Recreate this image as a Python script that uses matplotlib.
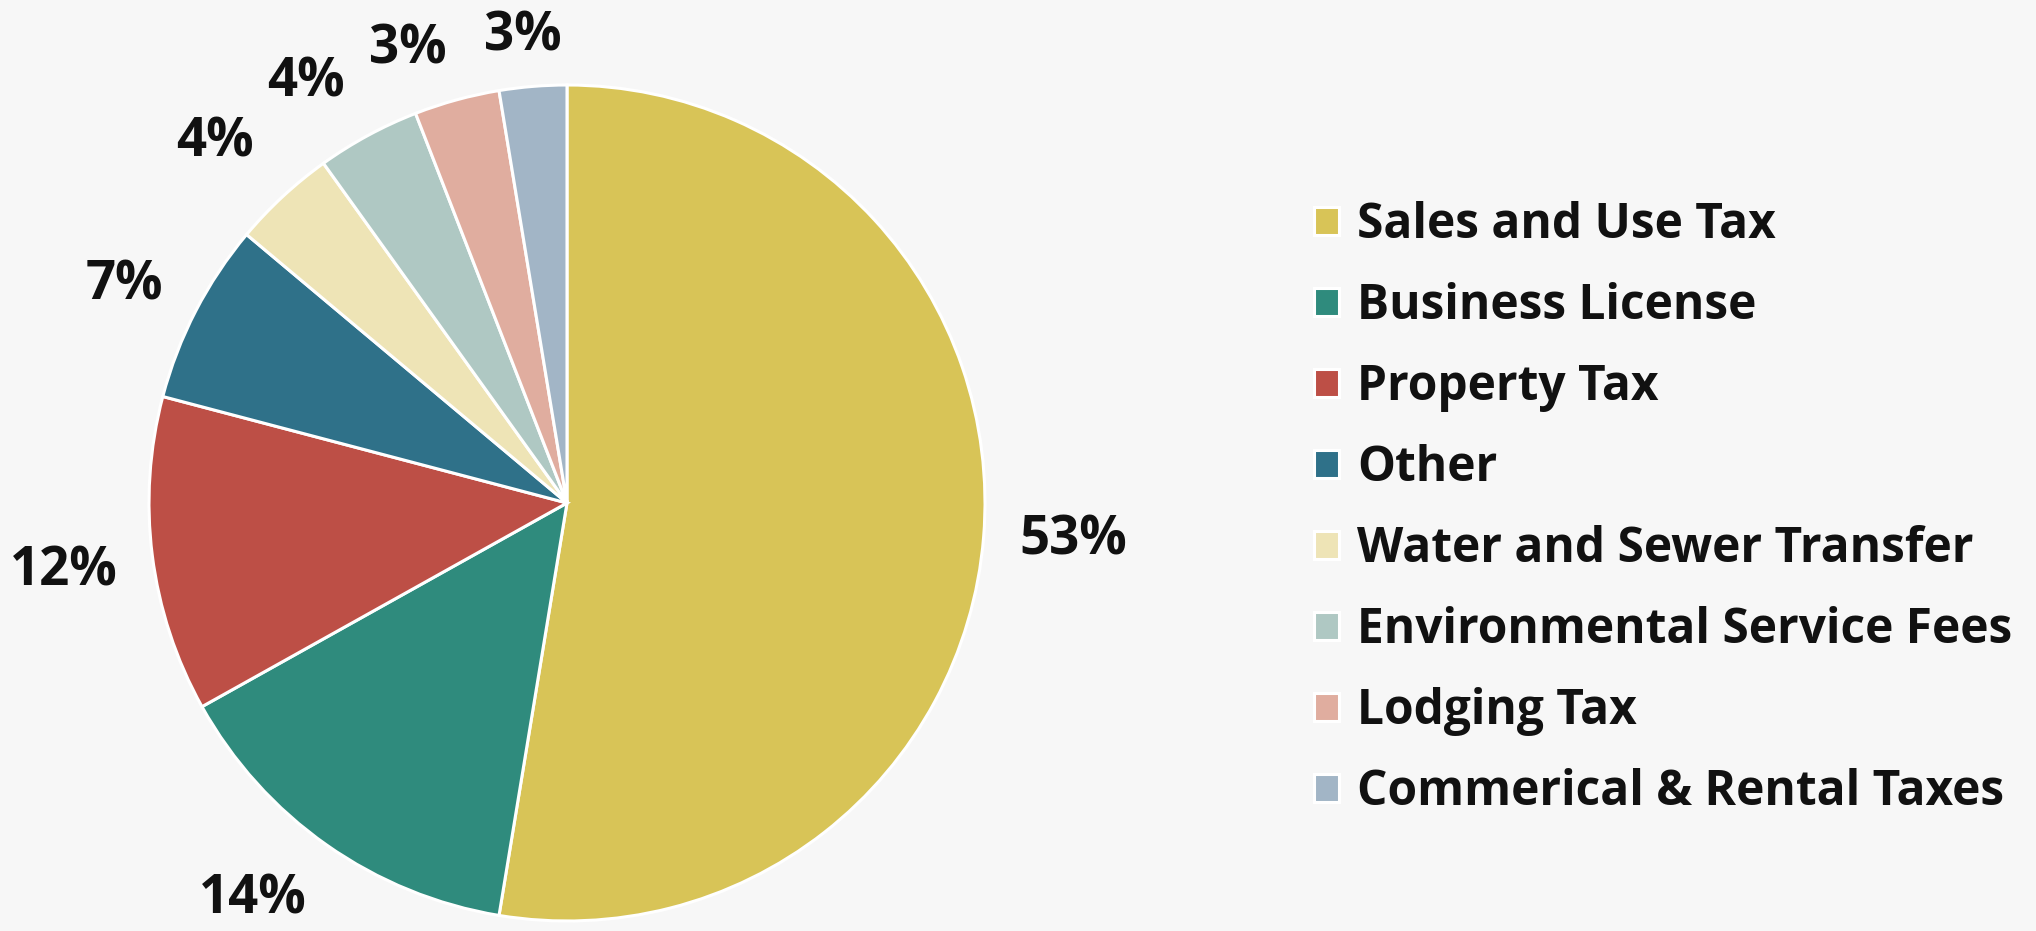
import matplotlib
matplotlib.use("Agg")
import matplotlib.pyplot as plt
import numpy as np

# revenue sources, share of total (%)
sources = [
    "Sales and Use Tax",
    "Business License",
    "Property Tax",
    "Other",
    "Water and Sewer Transfer",
    "Environmental Service Fees",
    "Lodging Tax",
    "Commerical & Rental Taxes",
]
shares = [52.6, 14.3, 12.2, 7.0, 4.0, 4.0, 3.3, 2.6]
colors = ["#D8C457", "#2F8B7D", "#BD4F46", "#2F7189",
          "#EEE4B6", "#AFC8C3", "#E0AD9F", "#A2B5C6"]

# label placement: distance from centre (radius units) and angle nudge (deg)
label_r = [1.215, 1.21, 1.215, 1.18, 1.205, 1.185, 1.15, 1.12]
label_nudge = [0.4, -3.3, 0.5, 1.2, 1.5, 3.4, 4.0, 0.7]

plt.rcParams["font.family"] = ["Open Sans", "DejaVu Sans"]
bg = "#F7F7F7"

W, H = 2036, 931
fig = plt.figure(figsize=(W / 100, H / 100), dpi=100, facecolor=bg)

cx, cy, rad = 567, 503, 418
ax = fig.add_axes([(cx - rad) / W, (H - cy - rad) / H, 2 * rad / W, 2 * rad / H])
ax.set_facecolor(bg)

wedges, _ = ax.pie(shares, colors=colors, startangle=90, counterclock=False,
                   radius=1, wedgeprops=dict(edgecolor="white", linewidth=2.2))
ax.set_xlim(-1, 1)
ax.set_ylim(-1, 1)
ax.set_aspect("equal")
ax.axis("off")

for w, v, r, d in zip(wedges, shares, label_r, label_nudge):
    ang = np.deg2rad((w.theta1 + w.theta2) / 2 + d)
    ax.text(r * np.cos(ang), r * np.sin(ang), f"{v:.0f}%", ha="center", va="center",
            fontsize=38, fontweight="bold", color="#111111", clip_on=False)

fig.legend(wedges, sources, loc="upper left",
           bbox_to_anchor=(1314 / W, 1 - 201 / H), frameon=False,
           prop=dict(size=34.5, weight="bold"), labelcolor="#111111",
           handlelength=0.52, handleheight=0.52, handletextpad=0.38,
           labelspacing=0.668, borderpad=0, borderaxespad=0)

fig.savefig("out.png", dpi=100, facecolor=bg)
